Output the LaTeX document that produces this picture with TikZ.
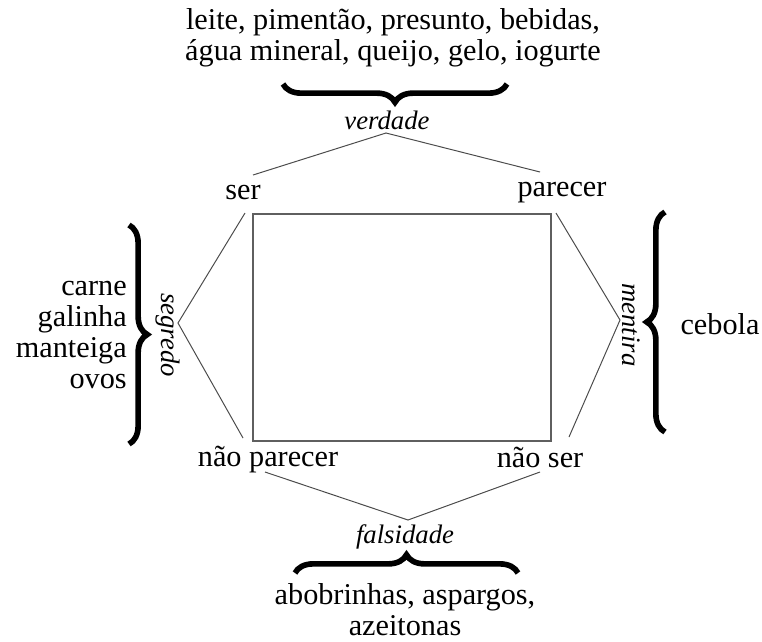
\documentclass[tikz,border=0pt]{standalone}
\usepackage{fontspec}
\setmainfont{Liberation Serif}
\usetikzlibrary{decorations.pathreplacing}
\definecolor{boxline}{RGB}{95,95,95}
\definecolor{wireline}{RGB}{75,75,75}

\begin{document}
\begin{tikzpicture}[x=0.025cm, y=-0.025cm,
  term/.style={font=\fontsize{21.5}{22}\selectfont, inner sep=1pt},
  pole/.style={font=\fontsize{19}{22}\selectfont\itshape, inner sep=1pt},
  items/.style={font=\fontsize{21.5}{22}\selectfont, inner sep=0pt},
  wire/.style={draw=wireline, line width=0.7pt},
  bigbrace/.style={decorate, decoration={brace, amplitude=13pt}, line width=4pt},
]
\useasboundingbox (0,0) rectangle (762,641);

% ===== Square and its corners =====
\node[draw=boxline, line width=1pt, minimum width=7.45cm, minimum height=5.675cm, inner sep=0pt] (sq) at (402,327.5) {};
\node[term] (ser)     at (243,193) {ser};
\node[term] (parecer) at (562,193) {parecer};
\node[term] (npar)    at (268,460) {não parecer};
\node[term] (nser)    at (540,457) {não ser};

% ===== Poles =====
\node[pole] (verdade)   at (387,120) {verdade};
\node[pole] (falsidade) at (405,537) {falsidade};
\node[pole, rotate=-90] (segredo) at (168,335) {segredo};
\node[pole, rotate=-90] (mentira) at (631,325) {mentira};

% ===== Item lists =====
\node[items, align=center] (topl) at (393,38) {leite, pimentão, presunto, bebidas,\\água mineral, queijo, gelo, iogurte};
\node[items, align=right, anchor=east] (leftl) at (127,335) {carne\\galinha\\manteiga\\ovos};
\node[items] (rightl) at (720,324) {cebola};
\node[items, align=center] (botl) at (405,610) {abobrinhas, aspargos,\\azeitonas};

% ===== Apexes and line ends =====
\coordinate (vA) at (386,133);
\coordinate (sA) at (178,323);
\coordinate (mA) at (620,320);
\coordinate (fA) at (408,520);
\coordinate (serT) at (253,175);  \coordinate (parT) at (540,172);
\coordinate (serL) at (245,213);  \coordinate (nparL) at (243,438);
\coordinate (parR) at (556,213);  \coordinate (nserR) at (569,437);
\coordinate (nparB) at (265,472); \coordinate (nserB) at (540,472);

% ===== Connectors =====
\draw[wire] (serT) -- (vA) -- (parT);
\draw[wire] (serL) -- (sA) -- (nparL);
\draw[wire] (parR) -- (mA) -- (nserR);
\draw[wire] (nparB) -- (fA) -- (nserB);

% ===== Braces =====
\draw[bigbrace] (507,84) -- (283,84);
\draw[bigbrace] (129,225) -- (129,444);
\draw[bigbrace] (665,432) -- (665,212);
\draw[bigbrace] (295,573) -- (518,573);
\end{tikzpicture}
\end{document}
